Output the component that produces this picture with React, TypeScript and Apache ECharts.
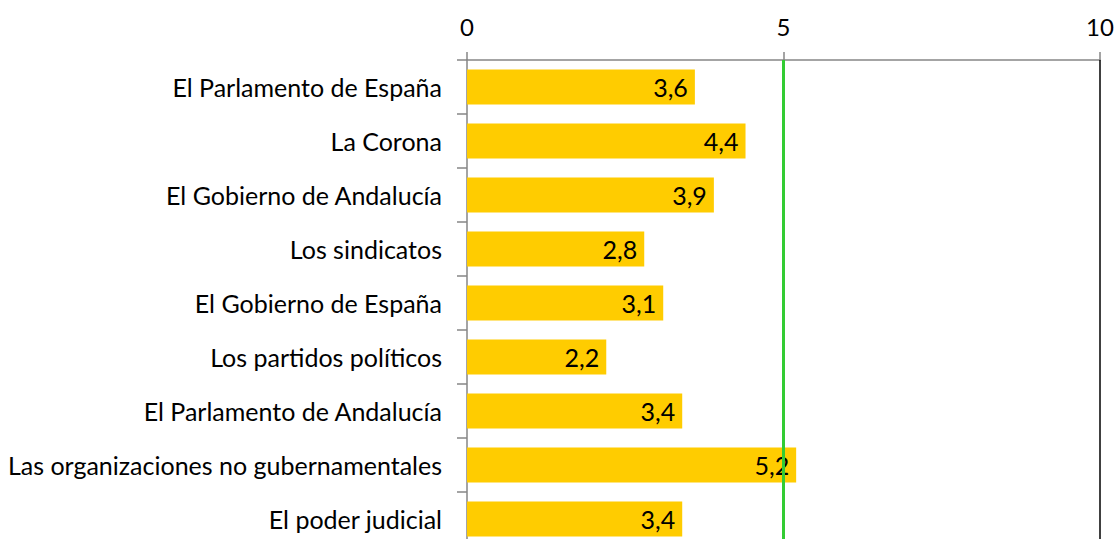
import React, { useEffect, useRef } from "react";
import * as echarts from "echarts";

const categories = [
  "El Parlamento de España",
  "La Corona",
  "El Gobierno de Andalucía",
  "Los sindicatos",
  "El Gobierno de España",
  "Los partidos políticos",
  "El Parlamento de Andalucía",
  "Las organizaciones no gubernamentales",
  "El poder judicial",
];
const values = [3.6, 4.4, 3.9, 2.8, 3.1, 2.2, 3.4, 5.2, 3.4];
const axisMin = 0;
const axisMax = 10;
const axisInterval = 5;
const referenceValue = 5;

const FONT = "Lato";
const FS = 25;

export default function App() {
  const ref = useRef<HTMLDivElement>(null);
  useEffect(() => {
    if (!ref.current) return;
    const chart = echarts.init(ref.current, undefined, { renderer: "svg" });
    chart.setOption({
      animation: false,
      backgroundColor: "#ffffff",
      grid: { left: 467, right: 17, top: 60, bottom: -7, containLabel: false, outerBoundsMode: "none" },
      xAxis: {
        type: "value",
        position: "top",
        min: axisMin,
        max: axisMax,
        interval: axisInterval,
        axisLine: { show: true, lineStyle: { color: "#868686", width: 1.5 } },
        axisTick: { show: true, length: 8, lineStyle: { color: "#868686", width: 1.5 } },
        axisLabel: {
          color: "#000",
          fontSize: 24,
          fontFamily: FONT,
          margin: 22,
          hideOverlap: false,
          formatter: (v: number) => String(v),
        },
        splitLine: { show: false },
      },
      yAxis: {
        type: "category",
        data: categories,
        inverse: true,
        axisLine: { show: true, lineStyle: { color: "#868686", width: 1.5 } },
        axisTick: { show: true, length: 10, interval: 0, lineStyle: { color: "#868686", width: 1.5 } },
        axisLabel: {
          color: "#000",
          fontSize: FS,
          fontFamily: FONT,
          margin: 25,
          interval: 0,
        },
      },
      series: [
        {
          type: "bar",
          data: values,
          barWidth: 35,
          itemStyle: { color: "#FFCC00" },
          label: {
            show: true,
            position: "insideRight",
            distance: 7,
            color: "#000",
            fontSize: FS,
            fontFamily: FONT,
            formatter: (p: any) => String(p.value).replace(".", ","),
          },
          markLine: {
            silent: true,
            symbol: "none",
            label: { show: false },
            data: [
              { xAxis: referenceValue, lineStyle: { color: "#33CC33", width: 3, type: "solid" } },
              { xAxis: axisMax, lineStyle: { color: "#000000", width: 1.5, type: "solid" } },
            ],
          },
        },
      ],
    });
    return () => chart.dispose();
  }, []);
  return (
    <div
      ref={ref}
      style={{ position: "fixed", left: 0, top: 0, width: 1117, height: 539 }}
    />
  );
}
